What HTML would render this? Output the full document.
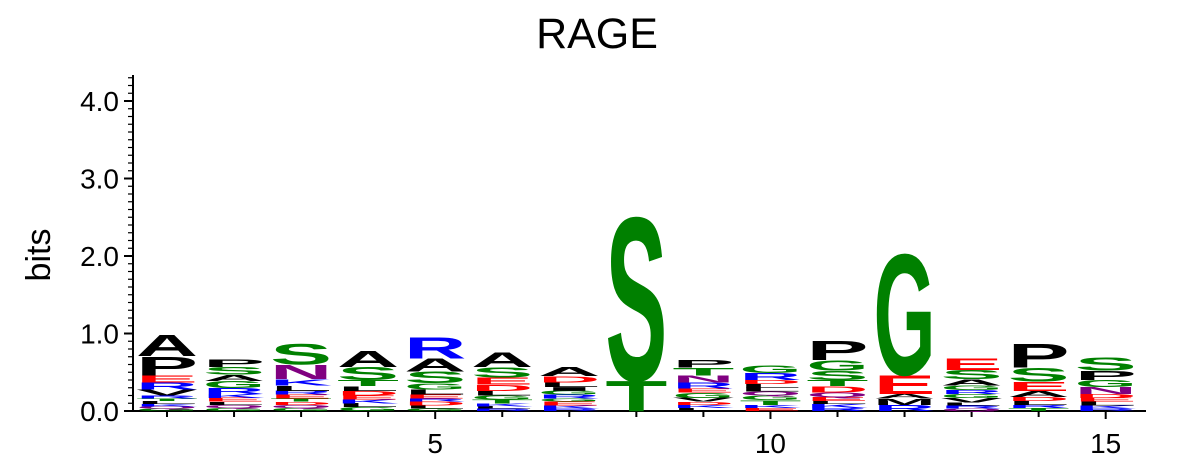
<!DOCTYPE html>
<html><head><meta charset="utf-8"><style>
html,body{margin:0;padding:0;background:#fff;}
svg{display:block;font-family:"Liberation Sans",sans-serif;}
</style></head><body>
<svg id="chart" width="1196" height="471" viewBox="0 0 1196 471" xmlns="http://www.w3.org/2000/svg">
<text x="597" y="48" font-size="43" text-anchor="middle">RAGE</text>
<text transform="translate(50,255) rotate(-90)" font-size="34" text-anchor="middle">bits</text>
<g id="axes"></g>
<g id="letters"></g>
</svg>
<script>
// positions 1..15, letters bottom->top with heights in bits
const positions = [1,2,3,4,5,6,7,8,9,10,11,12,13,14,15];
const stackLetters = [
 ["G","Q","K","L","T","R","V","R","E","P","A"],
 ["G","Q","L","E","K","R","G","A","S","P"],
 ["G","Q","D","T","E","R","L","K","N","S"],
 ["G","L","K","E","D","L","T","S","A"],
 ["G","L","D","R","E","L","G","S","A","R"],
 ["R","L","K","T","G","L","D","E","S","A"],
 ["R","K","E","G","R","G","I","L","D","A"],
 ["T","S"],
 ["L","K","D","V","G","E","R","N","T","P"],
 ["E","K","T","G","Q","L","L","D","R","G"],
 ["R","K","L","E","Q","D","T","S","G","P"],
 ["R","M","A","E","G"],
 ["Q","R","L","V","G","R","G","A","S","E"],
 ["T","R","L","D","A","E","S","P"],
 ["R","K","L","E","D","N","G","P","S"]
];
const stackHeights = [
 [0.03,0.03,0.03,0.04,0.03,0.04,0.08,0.09,0.09,0.25,0.28],
 [0.04,0.04,0.04,0.05,0.05,0.08,0.09,0.08,0.1,0.1],
 [0.04,0.04,0.04,0.04,0.05,0.05,0.07,0.08,0.19,0.27],
 [0.05,0.05,0.05,0.05,0.06,0.06,0.08,0.17,0.21],
 [0.03,0.04,0.05,0.04,0.05,0.07,0.08,0.15,0.17,0.28],
 [0.03,0.03,0.04,0.05,0.05,0.06,0.08,0.09,0.14,0.2],
 [0.03,0.04,0.05,0.04,0.05,0.05,0.05,0.06,0.08,0.12],
 [0.4,2.16],
 [0.04,0.04,0.04,0.05,0.07,0.05,0.08,0.09,0.1,0.1],
 [0.04,0.04,0.06,0.06,0.05,0.05,0.05,0.05,0.09,0.1],
 [0.04,0.05,0.04,0.05,0.06,0.08,0.08,0.12,0.14,0.26],
 [0.08,0.08,0.06,0.25,1.6],
 [0.03,0.04,0.04,0.06,0.05,0.05,0.06,0.08,0.12,0.15],
 [0.04,0.04,0.05,0.05,0.08,0.12,0.18,0.32],
 [0.03,0.04,0.05,0.05,0.05,0.09,0.09,0.12,0.17]
];
const yTicks = [0,1,2,3,4];
const yTickLabels = ["0.0","1.0","2.0","3.0","4.0"];
const xTickLabels = [5,10,15];

const NS="http://www.w3.org/2000/svg";
const X0=167, DX=67.05, Y0=411, PXB=77.5, LW=62;
function xs(p){return X0+(p-1)*DX;}
function ys(b){return Y0-b*PXB;}
function colorOf(c){
 if("STGCY".includes(c)) return "#008000";
 if("RKH".includes(c)) return "#0000ff";
 if("DE".includes(c)) return "#ff0000";
 if("NQ".includes(c)) return "#800080";
 return "#000000";
}
const axes=document.getElementById("axes");
function mk(tag,attrs,parent){const e=document.createElementNS(NS,tag);for(const k in attrs)e.setAttribute(k,attrs[k]);parent.appendChild(e);return e;}
let yl=mk("line",{x1:133,y1:75,x2:133,y2:Y0,stroke:"#000","stroke-width":2},axes);


let xl=mk("line",{x1:132,y1:Y0,x2:1146,y2:Y0,stroke:"#000","stroke-width":2},axes);


for(let i=0;i<=43;i++){
 const b=i/10, y=ys(b), major=(i%10===0);
 mk("line",{x1:major?124:128,y1:y,x2:133,y2:y,stroke:"#000","stroke-width":major?2:1.2},axes);
}
yTicks.forEach((t,i)=>{
 const tx=mk("text",{x:119,y:ys(t)+10,"font-size":28,"text-anchor":"end"},axes);
 tx.textContent=yTickLabels[i];
 
 
});
positions.forEach(p=>{
 mk("line",{x1:xs(p),y1:Y0,x2:xs(p),y2:Y0+(p%5===0?8:6),stroke:"#000","stroke-width":2},axes);
});
xTickLabels.forEach(v=>{
 const tx=mk("text",{x:xs(v),y:453,"font-size":28,"text-anchor":"middle"},axes);
 tx.textContent=String(v);
 
 
});
const lg=document.getElementById("letters");
const CAP=71.6;
positions.forEach((p,i)=>{
 let acc=0;
 const col=mk("g",{},lg);
 
 
 stackLetters[i].forEach((c,j)=>{
  const h=stackHeights[i][j];
  const bottom=ys(acc); acc+=h;
  const hp=h*PXB;
  const g=mk("g",{transform:"translate("+(xs(p)-LW/2)+","+bottom+") scale(1,"+(hp/CAP)+")"},col);
  const t=mk("text",{x:0,y:0,"font-size":100,"font-weight":"bold",fill:colorOf(c),textLength:LW,lengthAdjust:"spacingAndGlyphs"},g);
  t.textContent=c;
  
  
 });
});
</script>
</body></html>
